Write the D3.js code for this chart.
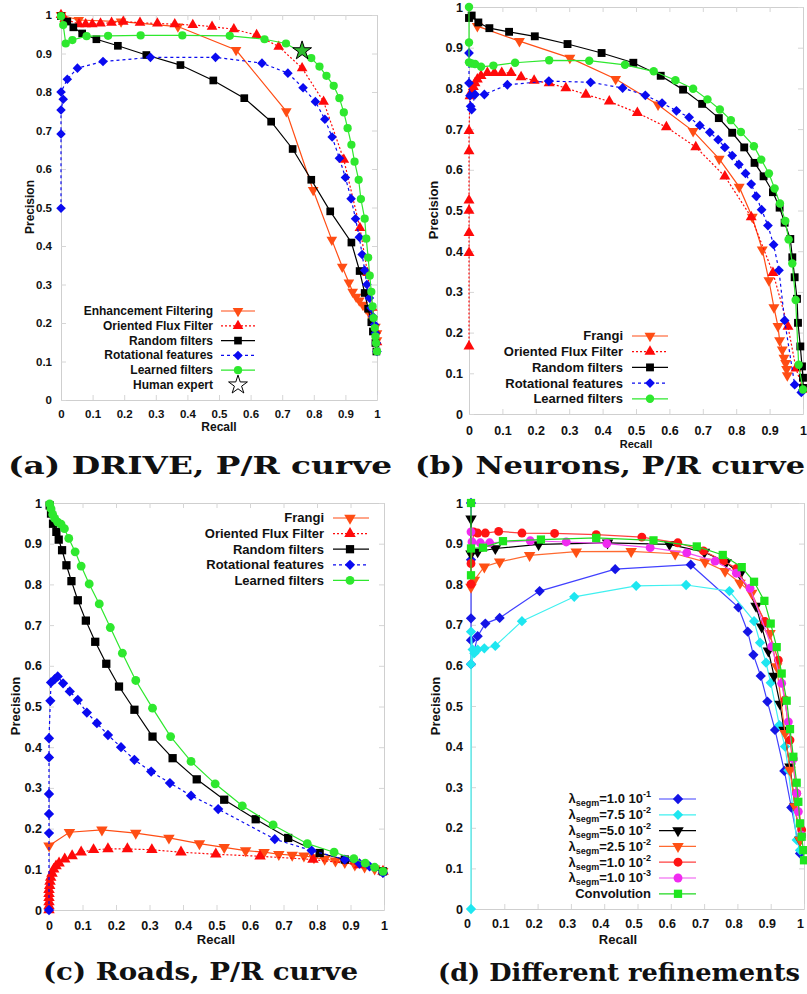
<!DOCTYPE html>
<html>
<head>
<meta charset="utf-8">
<script src="https://cdn.jsdelivr.net/npm/d3@7"></script>
<style>
  body { margin: 0; background: #fff; }
</style>
</head>
<body>
<div class="canvas"></div>
<script>
// tick values and labels shared by all four panels
const ticks = [0, 0.1, 0.2, 0.3, 0.4, 0.5, 0.6, 0.7, 0.8, 0.9, 1];
const tickLabels = ['0', '0.1', '0.2', '0.3', '0.4', '0.5', '0.6', '0.7', '0.8', '0.9', '1'];

// (a) DRIVE  [recall, precision]
const aEnh = [[0,1.0],[0.056,0.987],[0.19,0.983],[0.37,0.97],[0.554,0.909],[0.713,0.75],[0.798,0.545],[0.857,0.416],[0.89,0.346],[0.911,0.305],[0.923,0.281],[0.934,0.268],[0.944,0.258],[0.955,0.247],[0.965,0.238],[0.976,0.225],[0.986,0.208],[0.995,0.19],[1.0,0.173],[1.0,0.155]];
const aOff = [[0,1.0],[0.012,0.99],[0.057,0.976],[0.078,0.976],[0.099,0.976],[0.125,0.978],[0.16,0.98],[0.197,0.983],[0.25,0.98],[0.305,0.978],[0.36,0.976],[0.417,0.974],[0.478,0.97],[0.547,0.963],[0.619,0.948],[0.689,0.918],[0.763,0.862],[0.831,0.775],[0.895,0.624],[0.946,0.447],[0.97,0.33],[0.985,0.24],[0.995,0.18],[1.0,0.15]];
const aRand = [[0,0.997],[0.02,0.983],[0.039,0.968],[0.067,0.952],[0.112,0.937],[0.18,0.92],[0.27,0.896],[0.378,0.87],[0.482,0.83],[0.58,0.784],[0.665,0.723],[0.733,0.652],[0.792,0.572],[0.852,0.49],[0.919,0.409],[0.945,0.335],[0.961,0.278],[0.972,0.237],[0.982,0.202],[0.987,0.178],[0.995,0.148],[0.998,0.126]];
const aRot = [[0,0.498],[0,0.691],[0,0.753],[0.007,0.781],[0,0.8],[0.02,0.833],[0.052,0.862],[0.133,0.879],[0.283,0.89],[0.489,0.89],[0.636,0.875],[0.718,0.849],[0.766,0.811],[0.805,0.775],[0.835,0.729],[0.858,0.683],[0.881,0.628],[0.9,0.578],[0.918,0.523],[0.932,0.471],[0.944,0.423],[0.953,0.378],[0.961,0.337],[0.968,0.3],[0.976,0.265],[0.981,0.239],[0.987,0.217],[0.992,0.196],[0.995,0.174],[0.998,0.148],[1.0,0.126]];
const aLearn = [[0,0.997],[0.007,0.974],[0.015,0.926],[0.036,0.935],[0.081,0.945],[0.149,0.946],[0.252,0.947],[0.384,0.947],[0.534,0.946],[0.644,0.937],[0.712,0.926],[0.792,0.888],[0.818,0.866],[0.84,0.842],[0.863,0.816],[0.881,0.784],[0.895,0.747],[0.907,0.706],[0.919,0.663],[0.929,0.619],[0.942,0.572],[0.949,0.522],[0.961,0.471],[0.966,0.419],[0.972,0.37],[0.977,0.323],[0.982,0.281],[0.986,0.243],[0.989,0.213],[0.993,0.187],[0.995,0.165],[0.997,0.148],[1.0,0.126]];
const aHuman = [[0.763,0.907]];

// (b) Neurons
const bFrangi = [[0.025,0.953],[0.151,0.916],[0.302,0.875],[0.439,0.823],[0.566,0.76],[0.671,0.695],[0.749,0.627],[0.809,0.558],[0.848,0.484],[0.878,0.404],[0.898,0.328],[0.913,0.262],[0.925,0.216],[0.93,0.181],[0.938,0.158],[0.943,0.138],[0.948,0.125],[0.951,0.11],[0.953,0.095]];
const bOff = [[0,0.166],[0,0.396],[0,0.445],[0,0.5],[0,0.525],[0,0.646],[0,0.696],[0.003,0.781],[0.008,0.793],[0.013,0.804],[0.018,0.813],[0.025,0.822],[0.036,0.831],[0.055,0.838],[0.076,0.838],[0.098,0.838],[0.126,0.838],[0.156,0.828],[0.195,0.819],[0.24,0.813],[0.29,0.801],[0.35,0.785],[0.42,0.768],[0.504,0.74],[0.591,0.705],[0.679,0.656],[0.766,0.584],[0.845,0.484],[0.91,0.347],[0.955,0.215],[0.979,0.112],[1.0,0.06]];
const bRand = [[0,0.973],[0.008,0.979],[0.028,0.962],[0.061,0.948],[0.12,0.939],[0.197,0.928],[0.295,0.909],[0.397,0.887],[0.492,0.863],[0.574,0.831],[0.641,0.797],[0.698,0.762],[0.748,0.727],[0.788,0.691],[0.824,0.655],[0.855,0.617],[0.882,0.584],[0.91,0.545],[0.93,0.507],[0.945,0.47],[0.962,0.43],[0.968,0.385],[0.975,0.336],[0.982,0.283],[0.985,0.224],[0.992,0.166],[0.997,0.117],[1.0,0.089],[1.0,0.064]];
const bRot = [[0,0.887],[0,0.813],[0.003,0.782],[0.005,0.756],[0.008,0.748],[0.018,0.785],[0.046,0.785],[0.115,0.809],[0.239,0.818],[0.364,0.815],[0.46,0.801],[0.528,0.783],[0.578,0.764],[0.621,0.745],[0.659,0.729],[0.691,0.709],[0.721,0.692],[0.746,0.674],[0.766,0.655],[0.788,0.635],[0.808,0.613],[0.828,0.591],[0.845,0.565],[0.86,0.535],[0.876,0.502],[0.895,0.463],[0.912,0.416],[0.928,0.353],[0.945,0.23],[0.975,0.072],[0.995,0.053]];
const bLearn = [[0,1.0],[0,0.913],[0,0.864],[0.008,0.861],[0.018,0.86],[0.036,0.853],[0.073,0.856],[0.138,0.863],[0.24,0.869],[0.36,0.868],[0.467,0.858],[0.553,0.842],[0.618,0.82],[0.671,0.799],[0.714,0.773],[0.751,0.748],[0.784,0.722],[0.814,0.693],[0.853,0.658],[0.875,0.625],[0.898,0.591],[0.915,0.554],[0.931,0.517],[0.947,0.474],[0.957,0.429],[0.968,0.37],[0.978,0.28],[0.987,0.121],[1.0,0.06]];

// (c) Roads
const cFrangi = [[0,0.158],[0.061,0.191],[0.158,0.197],[0.259,0.189],[0.358,0.177],[0.449,0.163],[0.523,0.154],[0.587,0.146],[0.642,0.142],[0.686,0.137],[0.726,0.135],[0.761,0.133],[0.791,0.129],[0.823,0.125],[0.855,0.121],[0.883,0.117],[0.913,0.111],[0.942,0.106],[0.972,0.101],[0.996,0.095]];
const cOff = [[0,0],[0,0.01],[0,0.02],[0,0.03],[0,0.04],[0,0.05],[0.002,0.06],[0.003,0.07],[0.005,0.08],[0.009,0.09],[0.014,0.1],[0.021,0.108],[0.03,0.115],[0.047,0.125],[0.069,0.133],[0.096,0.142],[0.133,0.148],[0.176,0.15],[0.234,0.15],[0.307,0.148],[0.394,0.142],[0.498,0.137],[0.63,0.132],[0.788,0.124],[0.927,0.111],[0.997,0.095]];
const cRand = [[0.002,0.994],[0.006,0.974],[0.012,0.949],[0.022,0.929],[0.029,0.91],[0.039,0.884],[0.052,0.847],[0.067,0.808],[0.086,0.761],[0.11,0.711],[0.138,0.659],[0.171,0.605],[0.209,0.549],[0.255,0.492],[0.309,0.426],[0.369,0.373],[0.441,0.321],[0.523,0.271],[0.617,0.223],[0.714,0.177],[0.808,0.14],[0.883,0.124],[0.997,0.095]];
const cRot = [[0,0],[0,0.189],[0,0.236],[0,0.285],[0,0.375],[0,0.422],[0.004,0.514],[0.006,0.559],[0.017,0.567],[0.026,0.574],[0.042,0.557],[0.062,0.537],[0.086,0.516],[0.113,0.485],[0.143,0.459],[0.176,0.43],[0.215,0.4],[0.255,0.369],[0.305,0.34],[0.361,0.312],[0.424,0.281],[0.505,0.248],[0.674,0.174],[0.784,0.146],[0.883,0.124],[0.927,0.114],[0.957,0.107],[0.997,0.091]];
const cLearn = [[0.002,0.998],[0.006,0.986],[0.011,0.972],[0.017,0.962],[0.026,0.953],[0.036,0.948],[0.046,0.937],[0.059,0.913],[0.078,0.88],[0.096,0.845],[0.12,0.801],[0.15,0.752],[0.183,0.694],[0.219,0.631],[0.259,0.564],[0.309,0.496],[0.363,0.426],[0.424,0.365],[0.496,0.31],[0.577,0.256],[0.669,0.209],[0.771,0.163],[0.851,0.142],[0.91,0.126],[0.944,0.115],[0.972,0.105],[0.997,0.095]];

// (d) refinements
const dSegm1 = [[0,1.0],[0,0.86],[0,0.716],[0,0.662],[0,0.603],[0.02,0.672],[0.043,0.703],[0.086,0.717],[0.206,0.783],[0.433,0.837],[0.66,0.848],[0.803,0.743],[0.831,0.683],[0.848,0.626],[0.87,0.574],[0.89,0.511],[0.913,0.441],[0.941,0.34],[0.962,0.25],[0.988,0.137]];
const dSegm2 = [[0,0],[0,0.683],[0.005,0.639],[0,0.603],[0.01,0.63],[0.02,0.639],[0.04,0.642],[0.073,0.648],[0.153,0.709],[0.31,0.769],[0.496,0.796],[0.646,0.798],[0.776,0.783],[0.85,0.709],[0.868,0.656],[0.886,0.607],[0.9,0.557],[0.926,0.453],[0.943,0.4],[0.953,0.342],[0.978,0.17],[0.988,0.145]];
const dSegm3 = [[0,0.961],[0,0.875],[0.02,0.88],[0.073,0.888],[0.203,0.898],[0.41,0.902],[0.596,0.898],[0.701,0.879],[0.766,0.854],[0.808,0.825],[0.856,0.746],[0.873,0.695],[0.893,0.636],[0.91,0.574],[0.928,0.505],[0.94,0.441],[0.958,0.35],[0.973,0.252],[0.988,0.17]];
const dSegm4 = [[0,0.793],[0.01,0.81],[0.04,0.843],[0.086,0.855],[0.176,0.871],[0.316,0.88],[0.481,0.881],[0.613,0.875],[0.703,0.855],[0.763,0.832],[0.808,0.803],[0.843,0.778],[0.898,0.679],[0.918,0.597],[0.943,0.433],[0.958,0.342],[0.973,0.252],[0.988,0.17]];
const dSegm5 = [[0,0.8],[0,0.851],[0.008,0.929],[0.02,0.926],[0.043,0.926],[0.083,0.93],[0.153,0.926],[0.251,0.925],[0.376,0.922],[0.513,0.916],[0.621,0.902],[0.698,0.882],[0.758,0.857],[0.798,0.839],[0.883,0.708],[0.923,0.613],[0.943,0.515],[0.958,0.416],[0.978,0.285],[0.993,0.195]];
const dSegm6 = [[0,0.929],[0.003,0.904],[0.028,0.902],[0.056,0.902],[0.178,0.907],[0.286,0.904],[0.408,0.9],[0.538,0.89],[0.648,0.877],[0.733,0.857],[0.797,0.827],[0.838,0.79],[0.903,0.646],[0.933,0.556],[0.953,0.461],[0.968,0.37],[0.978,0.285],[0.983,0.24],[0.993,0.182]];
const dConv = [[0,1.0],[0,0.822],[0,0.888],[0.036,0.89],[0.096,0.906],[0.21,0.91],[0.376,0.914],[0.548,0.908],[0.678,0.893],[0.756,0.872],[0.813,0.842],[0.85,0.806],[0.881,0.759],[0.9,0.703],[0.918,0.645],[0.933,0.58],[0.948,0.513],[0.958,0.443],[0.968,0.375],[0.978,0.311],[0.983,0.264],[0.988,0.211],[0.993,0.178],[0.998,0.145],[1.0,0.12]];

// legend names
const namesA = ['Enhancement Filtering', 'Oriented Flux Filter', 'Random filters', 'Rotational features', 'Learned filters', 'Human expert'];
const namesBC = ['Frangi', 'Oriented Flux Filter', 'Random filters', 'Rotational features', 'Learned filters'];
const segmValues = ['1.0 10', '7.5 10', '5.0 10', '2.5 10', '1.0 10', '1.0 10'];
const segmExps = ['-1', '-2', '-2', '-2', '-2', '-3'];

const SANS = '"Liberation Sans", Arial, sans-serif';
const SERIF = '"DejaVu Serif", serif';

const svg = d3.select('.canvas').append('svg')
  .attr('width', 807).attr('height', 994)
  .style('font-family', SANS).style('font-weight', 'bold');

const marks = {
  down:    { type: d3.symbolTriangle, rot: 180, size: 52 },
  up:      { type: d3.symbolTriangle, rot: 0, size: 52 },
  square:  { type: d3.symbolSquare, rot: 0, size: 62 },
  circle:  { type: d3.symbolCircle, rot: 0, size: 56 },
  diamond: { type: d3.symbolSquare, rot: 45, size: 48 },
  star:    { type: d3.symbolStar, rot: 0, size: 110 }
};

const drawMark = (g, kind, cx, cy, fill, stroke, k) => {
  const m = marks[kind];
  g.append('path')
    .attr('d', d3.symbol().type(m.type).size(m.size * (k || 1))())
    .attr('transform', `translate(${cx},${cy}) rotate(${m.rot})`)
    .attr('fill', fill)
    .attr('stroke', stroke || 'none')
    .attr('stroke-width', stroke ? 1 : 0);
};

const ORANGE = '#ff4d14', RED = '#ff0a0a', BLUE = '#0a0af0', GREEN = '#2ee82e';

const seriesBC = (f, o, r, rot, l) => [
  { data: f, color: ORANGE, mark: 'down', dash: null },
  { data: o, color: RED, mark: 'up', dash: '2,2' },
  { data: r, color: '#000', mark: 'square', dash: null },
  { data: rot, color: BLUE, mark: 'diamond', dash: '3,3' },
  { data: l, color: GREEN, mark: 'circle', dash: null }
];

const panels = [
  { x0: 61, x1: 377, y0: 400, y1: 15, fs: 11.5, lfs: 12, tfs: 12, ygap: 9, xbase: 18, xdx: 0, k: 0.95,
    xt: [219, 430.5], yt: [30, 207],
    cap: '(a) DRIVE, P/R curve', capX: [8, 392], capY: 474,
    series: [
      { data: aEnh, color: ORANGE, mark: 'down', dash: null },
      { data: aOff, color: RED, mark: 'up', dash: '2,2' },
      { data: aRand, color: '#000', mark: 'square', dash: null },
      { data: aRot, color: BLUE, mark: 'diamond', dash: '3,3' },
      { data: aLearn, color: GREEN, mark: 'circle', dash: null }
    ],
    names: namesA,
    leg: { tx: 213, l1: 221, l2: 255, mx: 238, y: 311, dy: 14.8 } },
  { x0: 469, x1: 803, y0: 414, y1: 7, fs: 12.5, lfs: 13, tfs: 11, ygap: 6, xbase: 21, xdx: 0, k: 1,
    xt: [636, 447.5], yt: [433, 210],
    cap: '(b) Neurons, P/R curve', capX: [415, 805], capY: 474,
    series: seriesBC(bFrangi, bOff, bRand, bRot, bLearn),
    names: namesBC,
    leg: { tx: 623, l1: 632, l2: 668, mx: 650, y: 336, dy: 15.7 } },
  { x0: 49, x1: 384, y0: 910, y1: 503, fs: 12.5, lfs: 13, tfs: 13, ygap: 7, xbase: 20, xdx: 0, k: 1.1,
    xt: [216, 944], yt: [15, 706],
    cap: '(c) Roads, P/R curve', capX: [43, 358], capY: 980,
    series: seriesBC(cFrangi, cOff, cRand, cRot, cLearn),
    names: namesBC,
    leg: { tx: 324, l1: 333, l2: 369, mx: 350, y: 518, dy: 15.6 } },
  { x0: 471, x1: 804, y0: 909, y1: 503, fs: 12.5, lfs: 13, tfs: 13, ygap: 8, xbase: 19, xdx: -4, k: 1.1,
    xt: [618, 944], yt: [435, 706],
    cap: '(d) Different refinements', capX: [438, 800], capY: 981,
    series: [
      { data: dSegm1, color: '#1414e6', line: '#4040ff', mark: 'diamond', dash: null },
      { data: dSegm2, color: '#1ee6f0', line: '#40f0f0', mark: 'diamond', dash: null },
      { data: dSegm3, color: '#000', line: '#000', mark: 'down', dash: null },
      { data: dSegm4, color: '#ff5014', line: '#ff6a30', mark: 'down', dash: null },
      { data: dSegm5, color: '#ff1414', line: '#ff4040', mark: 'circle', dash: null },
      { data: dSegm6, color: '#f02af0', line: '#f050f0', mark: 'circle', dash: null },
      { data: dConv, color: '#1ee61e', line: '#20d820', mark: 'square', dash: null }
    ],
    names: null,
    leg: { tx: 651, l1: 659, l2: 696, mx: 678, y: 799, dy: 15.8 } }
];

const drawPanel = p => {
  const g = svg.append('g');
  const x = d3.scaleLinear().domain([0, 1]).range([p.x0, p.x1]);
  const y = d3.scaleLinear().domain([0, 1]).range([p.y0, p.y1]);

  // frame with inward ticks on all sides
  const styleAxis = sel => {
    sel.select('.domain').attr('stroke', '#cfcfcf');
    sel.selectAll('.tick line').attr('stroke', '#d6d6d6');
    sel.selectAll('.tick text').attr('fill', '#111').style('font-size', p.fs + 'px')
      .style('font-family', SANS).style('font-weight', 'bold');
  };
  const fmt = (d, i) => tickLabels[i];
  g.append('g').attr('transform', `translate(0,${p.y1})`)
    .call(d3.axisTop(x).tickValues(ticks).tickSize(-5).tickSizeOuter(0).tickFormat(''))
    .call(styleAxis);
  g.append('g').attr('transform', `translate(${p.x1},0)`)
    .call(d3.axisRight(y).tickValues(ticks).tickSize(-5).tickSizeOuter(0).tickFormat(''))
    .call(styleAxis);
  const xAxisGroup = g.append('g').attr('transform', `translate(0,${p.y0})`)
    .call(d3.axisBottom(x).tickValues(ticks).tickSize(-5).tickSizeOuter(0)
      .tickPadding(p.xbase - 0.71 * p.fs).tickFormat(fmt))
    .call(styleAxis);
  xAxisGroup.selectAll('.tick text').attr('dx', p.xdx);
  g.append('g').attr('transform', `translate(${p.x0},0)`)
    .call(d3.axisLeft(y).tickValues(ticks).tickSize(-5).tickSizeOuter(0)
      .tickPadding(p.ygap).tickFormat(fmt))
    .call(styleAxis);

  // axis titles
  g.append('text').attr('x', p.xt[0]).attr('y', p.xt[1]).attr('text-anchor', 'middle')
    .style('font-size', p.tfs + 'px').attr('fill', '#111').text('Recall');
  g.append('text').attr('transform', `translate(${p.yt[0]},${p.yt[1]}) rotate(-90)`)
    .attr('text-anchor', 'middle').attr('dy', '0.35em')
    .style('font-size', (p.tfs < 12 ? 13 : p.tfs) + 'px').attr('fill', '#111').text('Precision');

  // series
  const line = d3.line().x(d => x(d[0])).y(d => y(d[1]));
  p.series.forEach(s => {
    g.append('path').datum(s.data).attr('d', line)
      .attr('fill', 'none').attr('stroke', s.line || s.color).attr('stroke-width', 1.2)
      .attr('stroke-dasharray', s.dash);
    const mg = g.append('g');
    s.data.forEach(d => drawMark(mg, s.mark, x(d[0]), y(d[1]), s.color, null, p.k));
  });

  // legend
  const L = p.leg;
  p.series.forEach((s, i) => {
    const ry = L.y + i * L.dy;
    g.append('line').attr('x1', L.l1).attr('x2', L.l2).attr('y1', ry).attr('y2', ry)
      .attr('stroke', s.line || s.color).attr('stroke-width', 1.2).attr('stroke-dasharray', s.dash);
    drawMark(g, s.mark, L.mx, ry, s.color, null, p.k);
    const t = g.append('text').attr('x', L.tx).attr('y', ry + 0.34 * p.lfs)
      .attr('text-anchor', 'end').style('font-size', p.lfs + 'px').attr('fill', '#111');
    if (p.names) {
      t.text(p.names[i]);
    } else if (i < segmValues.length) {
      t.append('tspan').text('λ');
      t.append('tspan').attr('dy', 3).style('font-size', '9px').text('segm');
      t.append('tspan').attr('dy', -3).text('=' + segmValues[i]);
      t.append('tspan').attr('dy', -6).style('font-size', '9px').text(segmExps[i]);
    } else {
      t.text('Convolution');
    }
  });

  // caption
  g.append('text').attr('x', p.capX[0]).attr('y', p.capY)
    .attr('textLength', p.capX[1] - p.capX[0]).attr('lengthAdjust', 'spacingAndGlyphs')
    .style('font-family', SERIF).style('font-weight', 'bold').style('font-size', '24px')
    .attr('fill', '#111').text(p.cap);
  return { g, x, y, L };
};

const out = panels.map(drawPanel);

// human expert: star in panel (a) and in its legend
const pa = out[0];
aHuman.forEach(d => drawMark(pa.g, 'star', pa.x(d[0]), pa.y(d[1]), '#2ebc2e', '#000'));
drawMark(pa.g, 'star', pa.L.mx, pa.L.y + 5 * pa.L.dy, '#fff', '#000');
pa.g.append('text').attr('x', pa.L.tx).attr('y', pa.L.y + 5 * pa.L.dy + 0.34 * 12)
  .attr('text-anchor', 'end').style('font-size', '12px').attr('fill', '#111').text(namesA[5]);
</script>
</body>
</html>
